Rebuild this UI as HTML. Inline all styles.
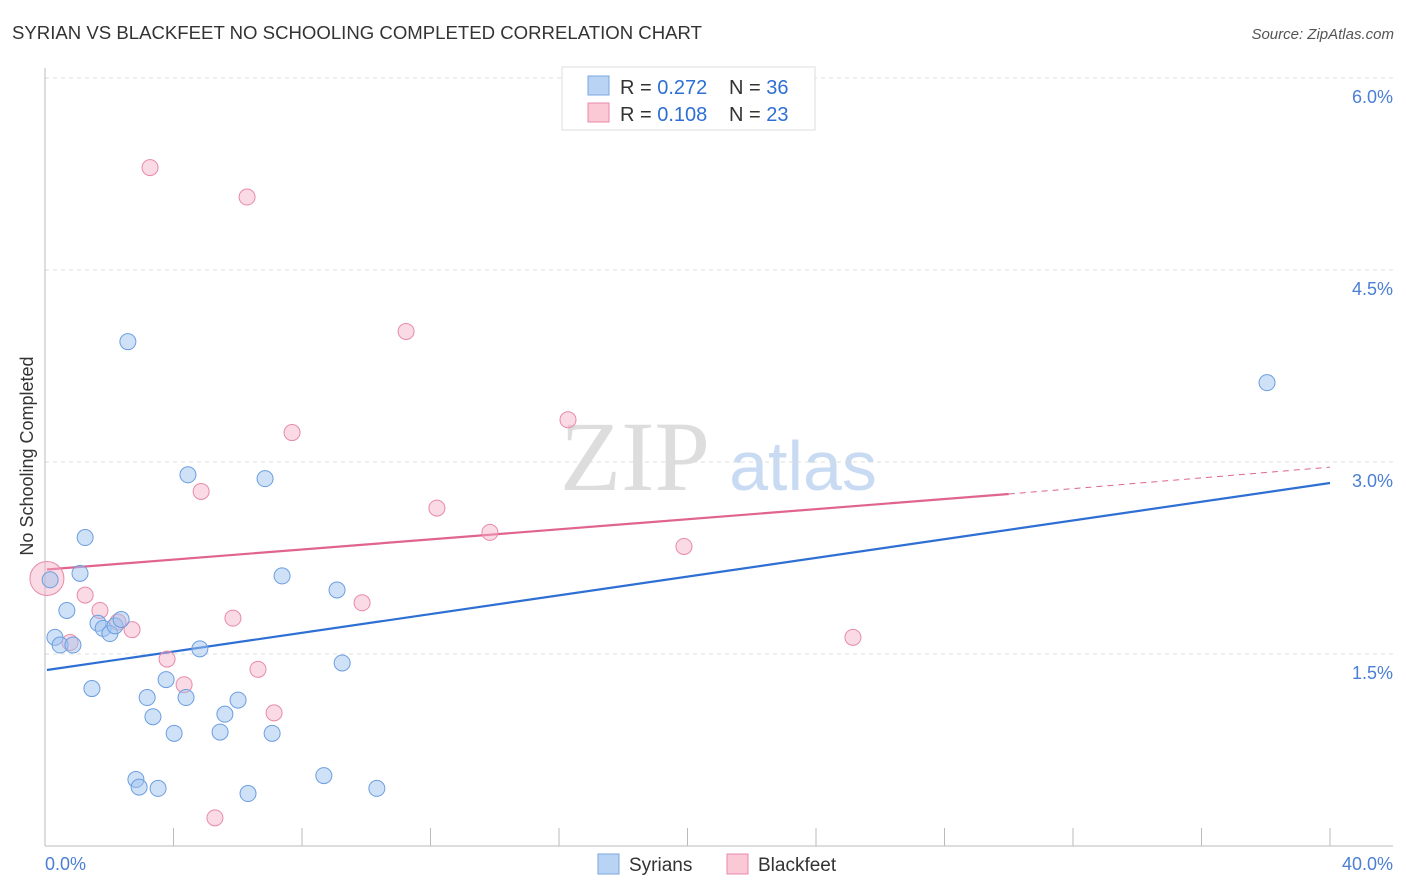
<!DOCTYPE html>
<html><head><meta charset="utf-8"><style>
body{margin:0;background:#fff;font-family:"Liberation Sans",sans-serif}
svg{display:block}
</style></head><body>
<svg id="chart" width="1406" height="892" xmlns="http://www.w3.org/2000/svg">
<text x="12" y="39" font-size="18" fill="#333" textLength="690" lengthAdjust="spacingAndGlyphs">SYRIAN VS BLACKFEET NO SCHOOLING COMPLETED CORRELATION CHART</text>
<text x="1394" y="39" font-size="15" fill="#555" text-anchor="end" font-style="italic">Source: ZipAtlas.com</text>
<g>
<text x="635" y="490" font-size="100" font-family="Liberation Serif,serif" fill="#ddd" text-anchor="middle">ZIP</text>
<text x="803" y="490" font-size="70" fill="#c8dbf3" text-anchor="middle">atlas</text>
</g>
<g id="grid"></g><g id="axes"></g><g id="lines"></g><g id="pts"></g>
<text transform="translate(33,456) rotate(-90)" font-size="18" fill="#333" text-anchor="middle">No Schooling Completed</text>
<g>
<rect x="562" y="67" width="253" height="63" fill="#fff" stroke="#ddd"/>
<rect x="588" y="76" width="21" height="19" fill="#b9d3f5" stroke="#7aa7e0"/>
<rect x="588" y="103" width="21" height="19" fill="#fbc8d6" stroke="#e88aa8"/>
<text x="620" y="94" font-size="20" fill="#333">R = <tspan fill="#2e6fd4">0.272</tspan></text>
<text x="729" y="94" font-size="20" fill="#333">N = <tspan fill="#2e6fd4">36</tspan></text>
<text x="620" y="121" font-size="20" fill="#333">R = <tspan fill="#2e6fd4">0.108</tspan></text>
<text x="729" y="121" font-size="20" fill="#333">N = <tspan fill="#2e6fd4">23</tspan></text>
</g>
<g>
<rect x="598" y="854" width="21" height="20" fill="#b9d3f5" stroke="#7aa7e0"/>
<text x="629" y="871" font-size="19" fill="#333">Syrians</text>
<rect x="727" y="854" width="21" height="20" fill="#fbc8d6" stroke="#e88aa8"/>
<text x="758" y="871" font-size="19" fill="#333">Blackfeet</text>
</g>
</svg>
<script>
const blueX=[0.31,0.47,0.68,0.87,1.09,1.25,1.46,1.65,1.81,2.02,2.18,2.37,2.58,2.83,2.93,3.18,3.36,3.52,3.77,4.02,4.39,4.45,4.82,5.45,5.60,6.01,6.32,6.85,7.07,7.38,8.68,9.09,9.25,10.33,38.04,0.16];
const blueY=[1.63,1.57,1.84,1.57,2.13,2.41,1.23,1.74,1.70,1.66,1.72,1.77,3.94,0.52,0.46,1.16,1.01,0.45,1.30,0.88,1.16,2.90,1.54,0.89,1.03,1.14,0.41,2.87,0.88,2.11,0.55,2.00,1.43,0.45,3.62,2.08];
const pinkX=[0.06,0.78,1.25,1.71,2.27,2.71,3.27,3.80,4.33,4.86,5.29,5.85,6.29,6.63,7.13,7.69,9.87,11.24,12.20,13.85,16.28,19.89,25.15];
const pinkY=[2.09,1.59,1.96,1.84,1.75,1.69,5.30,1.46,1.26,2.77,0.22,1.78,5.07,1.38,1.04,3.23,1.90,4.02,2.64,2.45,3.33,2.34,1.63];
const blueTrend=[0.06,1.375,40,2.836];
const pinkTrend=[0.06,2.16,30,2.75,40,2.96];
const yTicks=[1.5,3.0,4.5,6.0];
const xTickLabels=["0.0%","40.0%"];
const sx=v=>45+v*32.125, sy=v=>846-v*128;
const NS="http://www.w3.org/2000/svg";
function mk(tag,attrs,parent){const e=document.createElementNS(NS,tag);for(const k in attrs)e.setAttribute(k,attrs[k]);document.getElementById(parent).appendChild(e);return e;}
yTicks.forEach(t=>{
 const l=mk('line',{x1:45,x2:1393,y1:sy(t),y2:sy(t),stroke:'#ddd','stroke-dasharray':'4,4'},'grid');
 
 
 const tx=mk('text',{x:1393,y:sy(t)+25,'font-size':18,fill:'#4a7fd4','text-anchor':'end'},'grid');
 
 
 tx.textContent=t.toFixed(1)+'%';
});
let ax=mk('line',{x1:45,x2:45,y1:68,y2:846,stroke:'#bbb'},'axes');


ax=mk('line',{x1:45,x2:1393,y1:846,y2:846,stroke:'#bbb'},'axes');


for(let i=1;i<=10;i++){const t=mk('line',{x1:sx(i*4),x2:sx(i*4),y1:828,y2:846,stroke:'#bbb'},'axes');
 
 }
[[0,'start',45],[40,'end',1393]].forEach((d,i)=>{const t=mk('text',{x:d[2],y:870,'font-size':18,fill:'#4a7fd4','text-anchor':d[1]},'axes');
 
 
 t.textContent=xTickLabels[i];});
let ln=mk('line',{x1:sx(blueTrend[0]),y1:sy(blueTrend[1]),x2:sx(blueTrend[2]),y2:sy(blueTrend[3]),stroke:'#2e6fd4','stroke-width':2.2},'lines');


ln=mk('line',{x1:sx(pinkTrend[0]),y1:sy(pinkTrend[1]),x2:sx(pinkTrend[2]),y2:sy(pinkTrend[3]),stroke:'#e0648e','stroke-width':2.2},'lines');


ln=mk('line',{x1:sx(pinkTrend[2]),y1:sy(pinkTrend[3]),x2:sx(pinkTrend[4]),y2:sy(pinkTrend[5]),stroke:'#e0648e','stroke-width':1,'stroke-dasharray':'6,5'},'lines');


pinkX.forEach((x,i)=>{const c=mk('circle',{cx:sx(x),cy:sy(pinkY[i]),r:i===0?17:8,fill:'rgba(245,176,198,0.45)',stroke:'#e88aa8','stroke-width':1},'pts');
 
 });
blueX.forEach((x,i)=>{const c=mk('circle',{cx:sx(x),cy:sy(blueY[i]),r:8,fill:'rgba(160,195,240,0.5)',stroke:'#6b9ee0','stroke-width':1},'pts');
 
 });
</script>
</body></html>
